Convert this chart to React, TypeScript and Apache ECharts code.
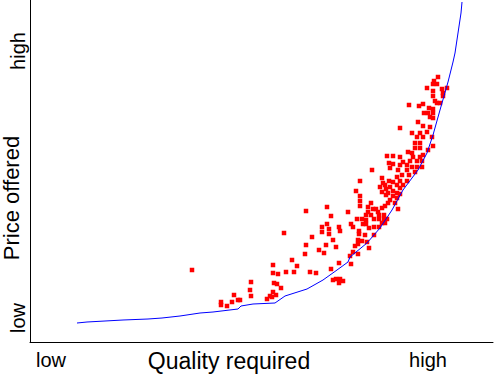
import React, { useEffect, useRef } from "react";
import * as echarts from "echarts";

// Axis extents (arbitrary units: quality 0..463, price 0..342)
const qualityRange: [number, number] = [0, 463];
const priceRange: [number, number] = [0, 342];

// Frontier curve: [quality, price]
const frontier: [number, number][] = [
  [47, 19], [57, 20], [75, 21], [93, 22], [118, 23], [132, 24], [150, 26], [170, 29],
  [183, 30], [208, 33], [211, 36], [223, 38], [245, 39], [255, 46], [277, 53], [293, 62],
  [307, 72], [318, 80], [320, 85], [337, 99], [350, 114], [362, 132], [373, 152], [388, 172],
  [397, 189], [403, 207], [410, 232], [418, 260], [423, 280], [425, 289], [428, 309],
  [431, 329], [432, 340],
];

// Offers: [quality, price]
const offersLow: [number, number][] = [
  [162, 72], [254, 109], [276, 131], [276, 97], [275, 88], [262, 82], [267, 76], [243, 77],
  [243, 69], [248, 68], [256, 70], [264, 70], [221, 60], [220, 52], [244, 59], [247, 58],
  [251, 54], [243, 50], [221, 46], [204, 47], [240, 46], [246, 47], [242, 45], [237, 43],
  [208, 42], [210, 42], [202, 40], [191, 40], [191, 37], [197, 36],
];

const offersMid: [number, number][] = [
  [330, 161], [326, 151], [330, 146], [330, 141], [330, 136], [297, 135], [301, 126], [318, 130],
  [341, 139], [338, 135], [338, 130], [343, 133], [346, 133], [348, 130], [352, 134], [355, 136],
  [358, 139], [350, 155], [353, 159], [352, 150], [356, 147], [358, 149], [336, 127], [341, 127],
  [349, 127], [354, 127], [332, 123], [327, 123], [336, 122], [344, 123], [349, 123], [354, 123],
  [357, 123], [321, 118], [323, 115], [333, 118], [336, 118], [352, 119], [355, 119], [297, 118],
  [292, 115], [299, 113], [309, 115], [310, 111], [292, 110], [299, 108], [329, 111], [329, 108],
  [335, 107], [339, 114], [344, 115], [344, 107], [349, 115], [282, 105], [303, 102], [328, 102],
  [332, 101], [337, 100], [296, 97], [306, 95], [325, 96], [328, 98], [339, 94], [289, 92],
  [294, 89], [323, 90], [328, 88], [320, 86], [309, 79], [321, 78], [301, 73], [280, 70],
  [286, 69], [303, 62], [306, 63], [310, 63], [313, 61], [309, 59],
  [359, 161], [355, 157], [356, 153],
];

const offersHigh: [number, number][] = [
  [388, 220], [400, 215], [397, 210], [390, 209], [382, 209], [387, 205], [393, 205], [385, 199],
  [390, 199], [402, 205], [403, 196], [398, 192], [390, 194], [385, 194], [382, 189], [378, 190],
  [357, 186], [363, 186], [370, 185], [383, 185], [390, 185], [393, 187], [380, 181], [387, 181],
  [392, 181], [373, 180], [359, 179], [363, 178], [370, 177], [377, 177], [382, 175], [387, 175],
  [392, 175], [360, 174], [342, 172], [368, 172], [377, 172], [385, 170], [372, 167], [379, 167],
  [367, 165], [352, 164], [363, 160], [370, 161], [377, 161], [367, 157], [373, 157], [360, 155],
  [370, 154], [363, 151], [367, 149], [363, 146], [370, 148], [360, 142], [367, 144], [365, 139],
  [368, 133],
  [408, 265], [404, 261], [403, 258], [407, 258], [397, 254], [412, 253], [417, 254], [403, 251],
  [413, 249], [413, 246], [403, 246], [405, 241], [407, 239], [410, 239], [393, 238], [379, 237],
  [389, 236], [399, 234], [403, 233], [394, 229], [398, 229], [403, 229], [400, 225], [403, 224],
  [370, 214], [393, 216],
];

const xLabels = ["low", "high"];
const yLabels = ["low", "high"];
const xTitle = "Quality required";
const yTitle = "Price offered";

const FONT = "'Liberation Sans', Arial, Helvetica, sans-serif";

export default function App() {
  const ref = useRef<HTMLDivElement>(null);

  useEffect(() => {
    if (!ref.current) return;
    const chart = echarts.init(ref.current, null, { renderer: "svg" });
    const offers = [...offersLow, ...offersMid, ...offersHigh];
    const textStyle = (size: number) => ({
      fill: "#000",
      fontSize: size,
      fontFamily: FONT,
      textAlign: "center",
      textVerticalAlign: "middle",
    });
    chart.setOption({
      animation: false,
      backgroundColor: "#ffffff",
      grid: { left: 30, right: 1, top: 0, bottom: 32 },
      xAxis: {
        type: "value",
        min: qualityRange[0],
        max: qualityRange[1],
        axisLine: { show: true, lineStyle: { color: "#000", width: 1 } },
        axisTick: { show: false },
        axisLabel: { show: false },
        splitLine: { show: false },
      },
      yAxis: {
        type: "value",
        min: priceRange[0],
        max: priceRange[1],
        axisLine: { show: true, lineStyle: { color: "#000", width: 1 } },
        axisTick: { show: false },
        axisLabel: { show: false },
        splitLine: { show: false },
      },
      series: [
        {
          type: "scatter",
          data: offers,
          symbol: "rect",
          symbolSize: 4.5,
          itemStyle: { color: "#ff0000", opacity: 1 },
          z: 2,
        },
        {
          type: "line",
          data: frontier,
          showSymbol: false,
          symbol: "none",
          lineStyle: { color: "#0000ff", width: 1 },
          z: 3,
        },
      ],
      graphic: [
        { type: "text", x: 51, y: 360, style: { text: xLabels[0], ...textStyle(20) } },
        { type: "text", x: 428, y: 360, style: { text: xLabels[1], ...textStyle(20) } },
        { type: "text", x: 229, y: 361, style: { text: xTitle, ...textStyle(23) } },
        { type: "text", x: 18, y: 318, rotation: Math.PI / 2, style: { text: yLabels[0], ...textStyle(20) } },
        { type: "text", x: 18, y: 51, rotation: Math.PI / 2, style: { text: yLabels[1], ...textStyle(20) } },
        { type: "text", x: 11, y: 198, rotation: Math.PI / 2, style: { text: yTitle, ...textStyle(22) } },
      ],
    });
    return () => chart.dispose();
  }, []);

  return <div ref={ref} style={{ width: 494, height: 374, position: "absolute", left: 0, top: 0 }} />;
}
